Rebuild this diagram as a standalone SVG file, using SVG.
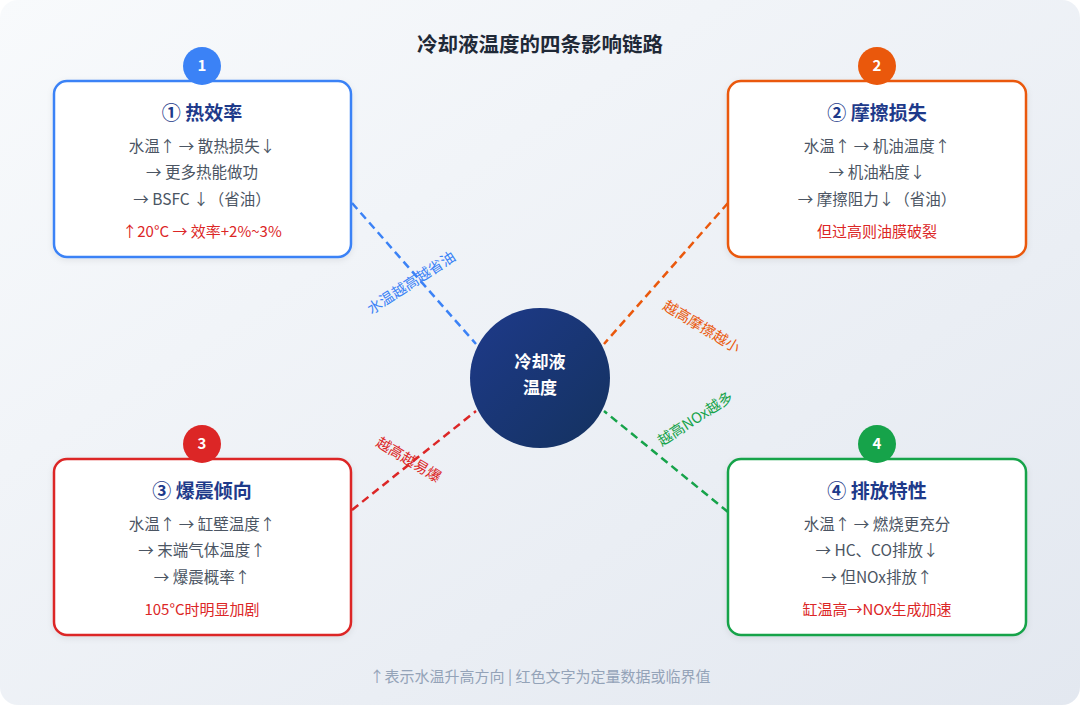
<svg xmlns="http://www.w3.org/2000/svg" width="1080" height="705" viewBox="0 0 1080 705">
<defs>
<linearGradient id="bg" x1="0" y1="0" x2="1" y2="1">
<stop offset="0" stop-color="#f8fafc"/>
<stop offset="1" stop-color="#e3e8f0"/>
</linearGradient>
<linearGradient id="hub" x1="0" y1="0" x2="1" y2="1">
<stop offset="0" stop-color="#1e3a8a"/>
<stop offset="1" stop-color="#14325f"/>
</linearGradient>
<filter id="sh" x="-10%" y="-10%" width="120%" height="130%">
<feDropShadow dx="0" dy="2" stdDeviation="3" flood-color="#0f172a" flood-opacity="0.08"/>
</filter>
</defs>
<style>
text{font-family:"Noto Sans CJK SC","Noto Sans",sans-serif;text-anchor:middle}
.box{fill:#ffffff;stroke-width:2.5;filter:url(#sh)}
.ttl{font-size:19px;font-weight:700;fill:#1e3a8a}
.body{font-size:15.5px;fill:#4b5563}
.red{font-size:15px;fill:#dc2626}
.num{font-size:15px;font-weight:700;fill:#ffffff}
.con{fill:none;stroke-width:2.5;stroke-dasharray:8 5}
.lbl{font-size:14.5px}
</style>
<rect x="0" y="0" width="1080" height="705" rx="18" fill="url(#bg)"/>
<text x="540" y="52" style="font-size:20.5px;font-weight:700;fill:#1f2937">冷却液温度的四条影响链路</text>

<g id="connectors">
<line class="con" x1="352" y1="203" x2="476" y2="344" stroke="#3b82f6"/>
<line class="con" x1="728" y1="203" x2="604" y2="344" stroke="#ea580c"/>
<line class="con" x1="352" y1="510" x2="476" y2="411" stroke="#dc2626"/>
<line class="con" x1="728" y1="512" x2="604" y2="411" stroke="#16a34a"/>
<text class="lbl" fill="#3b82f6" transform="translate(414,287) rotate(-33)">水温越高越省油</text>
<text class="lbl" fill="#ea580c" transform="translate(699,331) rotate(31)">越高摩擦越小</text>
<text class="lbl" fill="#16a34a" transform="translate(698,423) rotate(-33)">越高NOx越多</text>
<text class="lbl" fill="#dc2626" transform="translate(406,464) rotate(31)">越高越易爆</text>
</g>

<g id="hub">
<circle cx="540" cy="378" r="70" fill="url(#hub)"/>
<text x="540" y="368" style="font-size:17px;font-weight:700;fill:#ffffff">冷却液</text>
<text x="540" y="394" style="font-size:17px;font-weight:700;fill:#ffffff">温度</text>
</g>

<g id="node1">
<rect class="box" x="54" y="81" width="297" height="176" rx="13" stroke="#3b82f6"/>
<circle cx="202" cy="66" r="19" fill="#3b82f6"/>
<text class="num" x="202" y="71">1</text>
<text class="ttl" x="202" y="120">① 热效率</text>
<text class="body" x="202" y="152">水温↑ → 散热损失↓</text>
<text class="body" x="202" y="178">→ 更多热能做功</text>
<text class="body" x="202" y="205">→ BSFC ↓（省油）</text>
<text class="red" x="202" y="237">↑20°C → 效率+2%~3%</text>
</g>

<g id="node2">
<rect class="box" x="728" y="81" width="298" height="176" rx="13" stroke="#ea580c"/>
<circle cx="877" cy="66" r="19" fill="#ea580c"/>
<text class="num" x="877" y="71">2</text>
<text class="ttl" x="877" y="120">② 摩擦损失</text>
<text class="body" x="877" y="152">水温↑ → 机油温度↑</text>
<text class="body" x="877" y="178">→ 机油粘度↓</text>
<text class="body" x="877" y="205">→ 摩擦阻力↓（省油）</text>
<text class="red" x="877" y="237">但过高则油膜破裂</text>
</g>

<g id="node3">
<rect class="box" x="54" y="459" width="297" height="176" rx="13" stroke="#dc2626"/>
<circle cx="202" cy="444" r="19" fill="#dc2626"/>
<text class="num" x="202" y="449">3</text>
<text class="ttl" x="202" y="498">③ 爆震倾向</text>
<text class="body" x="202" y="530">水温↑ → 缸壁温度↑</text>
<text class="body" x="202" y="556">→ 末端气体温度↑</text>
<text class="body" x="202" y="583">→ 爆震概率↑</text>
<text class="red" x="202" y="615">105°C时明显加剧</text>
</g>

<g id="node4">
<rect class="box" x="728" y="459" width="298" height="176" rx="13" stroke="#16a34a"/>
<circle cx="877" cy="444" r="19" fill="#16a34a"/>
<text class="num" x="877" y="449">4</text>
<text class="ttl" x="877" y="498">④ 排放特性</text>
<text class="body" x="877" y="530">水温↑ → 燃烧更充分</text>
<text class="body" x="877" y="556">→ HC、CO排放↓</text>
<text class="body" x="877" y="583">→ 但NOx排放↑</text>
<text class="red" x="877" y="615">缸温高→NOx生成加速</text>
</g>

<text x="540" y="682" style="font-size:15px;fill:#94a3b8">↑表示水温升高方向 | 红色文字为定量数据或临界值</text>
</svg>
